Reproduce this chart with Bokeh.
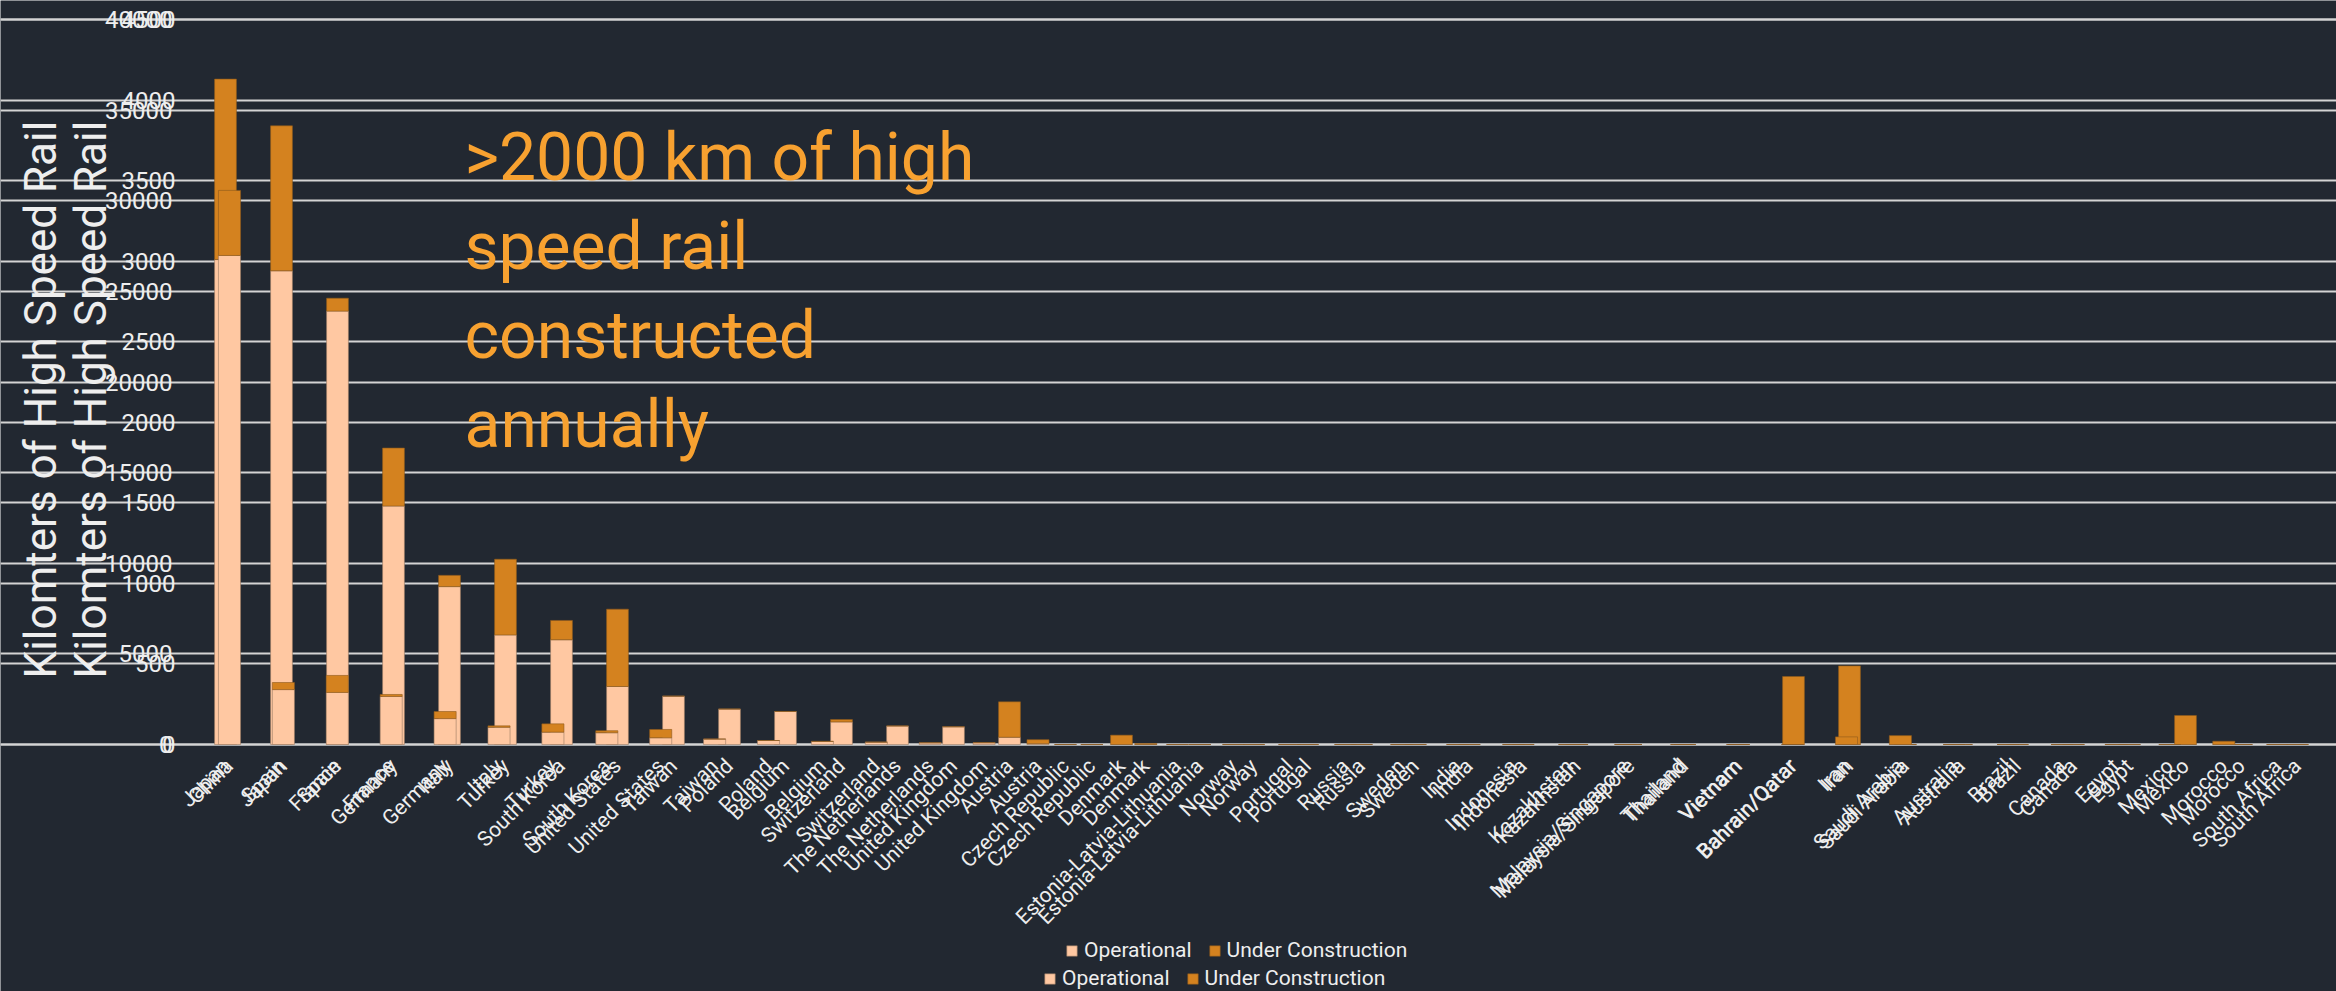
import math
from bokeh.plotting import figure
from bokeh.models import (Range1d, LinearAxis, FixedTicker, Grid, Label, Legend, LegendItem)
from bokeh.embed import file_html
from bokeh.resources import INLINE

# ---------------- data ----------------
countries_a = ["China", "Japan", "Spain", "France", "Germany", "Italy", "Turkey", "South Korea",
               "United States", "Taiwan", "Poland", "Belgium", "Switzerland", "The Netherlands",
               "United Kingdom", "Austria", "Czech Republic", "Denmark", "Estonia-Latvia-Lithuania",
               "Norway", "Portugal", "Russia", "Sweden", "India", "Indonesia", "Kazakhstan",
               "Malaysia/Singapore", "Thailand", "Vietnam", "Bahrain/Qatar", "Iran", "Saudi Arabia",
               "Australia", "Brazil", "Canada", "Egypt", "Mexico", "Morocco", "South Africa"]
operational_a = [26980, 3030, 2870, 2650, 1430, 950, 680, 650, 370, 300, 220, 170, 130, 95, 100,
                 45, 0, 0, 0, 0, 0, 0, 0, 0, 0, 0, 0, 0, 0, 0, 0, 0, 0, 0, 0, 0, 0, 0, 0]
construction_a = [3590, 390, 940, 110, 390, 80, 460, 110, 460, 0, 0, 0, 0, 0, 0,
                  220, 0, 56, 0, 0, 0, 0, 0, 0, 0, 0, 0, 0, 0, 0, 420, 490, 0, 0, 0, 0, 0, 180, 0]

countries_b = countries_a[1:]
operational_b = [3010, 2940, 2690, 1480, 980, 680, 650, 360, 300, 220, 205, 140, 115, 110,
                 45, 0, 0, 0, 0, 0, 0, 0, 0, 0, 0, 0, 0, 0, 0, 0, 0, 0, 0, 0, 0, 0, 0, 0]
construction_b = [1120, 900, 80, 360, 70, 470, 120, 480, 0, 0, 0, 15, 0, 0,
                  220, 0, 58, 0, 0, 0, 0, 0, 0, 0, 0, 0, 0, 0, 422, 488, 0, 0, 0, 0, 0, 180, 0, 0]

ticks_a = list(range(0, 40001, 5000))
ticks_b = list(range(0, 4501, 500))

legend_labels = ["Operational", "Under Construction"]
note_lines = [">2000 km of high", "speed rail", "constructed", "annually"]
y_title = "Kilomters of High Speed Rail"

# ---------------- style / geometry (page px) ----------------
BG = "#222831"
PEACH = "#ffc8a2"
ORANGE = "#d4821f"
NOTE = "#f7a130"
GRID = "#d4d4d4"
TXT = "#eeeeee"
FONT = "Roboto"

W, H = 2336, 991
Y0, YTOP = 744, 19          # pixel rows of value 0 and of the top value
YA, YB = 40000, 4500
a0, da = 229, 53.9          # first bar centre / spacing, series A
b0, db = 225, 56.0          # first bar centre / spacing, series B
AXIS_X = 198

xa = (0 - a0) / da, (W - a0) / da
xb = (0 - b0) / db, (W - b0) / db
ppa = (Y0 - YTOP) / YA
ppb = (Y0 - YTOP) / YB
ya_rng = (-(H - Y0) / ppa, Y0 / ppa)
yb_rng = (-(H - Y0) / ppb, Y0 / ppb)

def data_x(px):
    return xa[0] + px / W * (xa[1] - xa[0])

def data_y(py):
    return (Y0 - py) / ppa

p = figure(width=W, height=H, output_backend="svg", toolbar_location=None,
           x_range=Range1d(*xa), y_range=Range1d(*ya_rng),
           x_axis_type=None, y_axis_type=None,
           min_border_left=0, min_border_right=0, min_border_top=0, min_border_bottom=0,
           background_fill_color=BG, border_fill_color=BG)
p.outline_line_color = None
p.extra_x_ranges = {"b": Range1d(*xb)}
p.extra_y_ranges = {"b": Range1d(*yb_rng)}

# grids
ga = Grid(dimension=1, ticker=FixedTicker(ticks=ticks_a), grid_line_color=GRID,
          grid_line_width=2, bounds=(data_x(198), data_x(2309)))
gb = Grid(dimension=1, y_range_name="b", ticker=FixedTicker(ticks=ticks_b),
          grid_line_color=GRID, grid_line_width=2, bounds=(data_x(202), data_x(2325)))
p.add_layout(ga)
p.add_layout(gb)

def style_axis(ax, size):
    ax.axis_line_color = None
    ax.major_tick_line_color = None
    ax.minor_tick_line_color = None
    ax.major_tick_out = 0
    ax.major_tick_in = 0
    ax.minor_tick_out = 0
    ax.minor_tick_in = 0
    ax.major_label_text_color = TXT
    ax.major_label_text_font = FONT
    ax.major_label_text_font_size = size

# y axes
yax_a = LinearAxis(fixed_location=data_x(AXIS_X), ticker=FixedTicker(ticks=ticks_a))
style_axis(yax_a, "24px")
yax_a.major_label_standoff = 26
p.add_layout(yax_a, "left")

yax_b = LinearAxis(y_range_name="b", fixed_location=data_x(AXIS_X), ticker=FixedTicker(ticks=ticks_b))
style_axis(yax_b, "24px")
yax_b.major_label_standoff = 23
p.add_layout(yax_b, "left")

# axis titles
for cx in (40, 90):
    p.add_layout(Label(x=data_x(cx), y=data_y(399), text=y_title, angle=math.pi / 2,
                       text_align="center", text_baseline="middle",
                       text_color=TXT, text_font=FONT, text_font_size="44px"))

# x axes
xax_a = LinearAxis(fixed_location=0, ticker=FixedTicker(ticks=list(range(len(countries_a)))))
xax_a.major_label_overrides = {i: c for i, c in enumerate(countries_a)}
style_axis(xax_a, "21px")
xax_a.major_label_orientation = math.pi / 4
xax_a.major_label_standoff = 18
p.add_layout(xax_a, "below")

xax_b = LinearAxis(x_range_name="b", fixed_location=0,
                   ticker=FixedTicker(ticks=list(range(len(countries_b)))))
xax_b.major_label_overrides = {i: c for i, c in enumerate(countries_b)}
style_axis(xax_b, "21px")
xax_b.major_label_orientation = math.pi / 4
xax_b.major_label_standoff = 18
p.add_layout(xax_b, "below")

# bars: series B first (underneath), then series A
ib = list(range(len(countries_b)))
ia = list(range(len(countries_a)))
top_b = [o + u for o, u in zip(operational_b, construction_b)]
top_a = [o + u for o, u in zip(operational_a, construction_a)]

rb_op = p.vbar(x=ib, bottom=0, top=operational_b, width=0.39, x_range_name="b", y_range_name="b",
               fill_color=PEACH, line_color="#9a7a62", line_alpha=0.6)
rb_uc = p.vbar(x=ib, bottom=operational_b, top=top_b, width=0.39, x_range_name="b", y_range_name="b",
               fill_color=ORANGE, line_color="#8e5a1c", line_alpha=0.6)
ra_op = p.vbar(x=ia, bottom=0, top=operational_a, width=0.41,
               fill_color=PEACH, line_color="#9a7a62", line_alpha=0.6)
ra_uc = p.vbar(x=ia, bottom=operational_a, top=top_a, width=0.41,
               fill_color=ORANGE, line_color="#8e5a1c", line_alpha=0.6)

# note text
for k, line in enumerate(note_lines):
    p.add_layout(Label(x=data_x(464), y=data_y(157 + 89 * k), text=line,
                       text_color=NOTE, text_font=FONT, text_font_size="66px",
                       text_baseline="alphabetic"))

# legends
def make_legend(rs, loc):
    return Legend(items=[LegendItem(label=legend_labels[0], renderers=[rs[0]]),
                         LegendItem(label=legend_labels[1], renderers=[rs[1]])],
                  orientation="horizontal", location=loc,
                  background_fill_alpha=0, border_line_color=None,
                  label_text_color=TXT, label_text_font=FONT, label_text_font_size="21px",
                  glyph_width=13, glyph_height=13, label_height=22, spacing=16,
                  padding=0, margin=0, label_standoff=6)

p.add_layout(make_legend([ra_op, ra_uc], (1065, 29)))
p.add_layout(make_legend([rb_op, rb_uc], (1043, 1)))

open("out.html", "w").write(file_html(p, INLINE))
